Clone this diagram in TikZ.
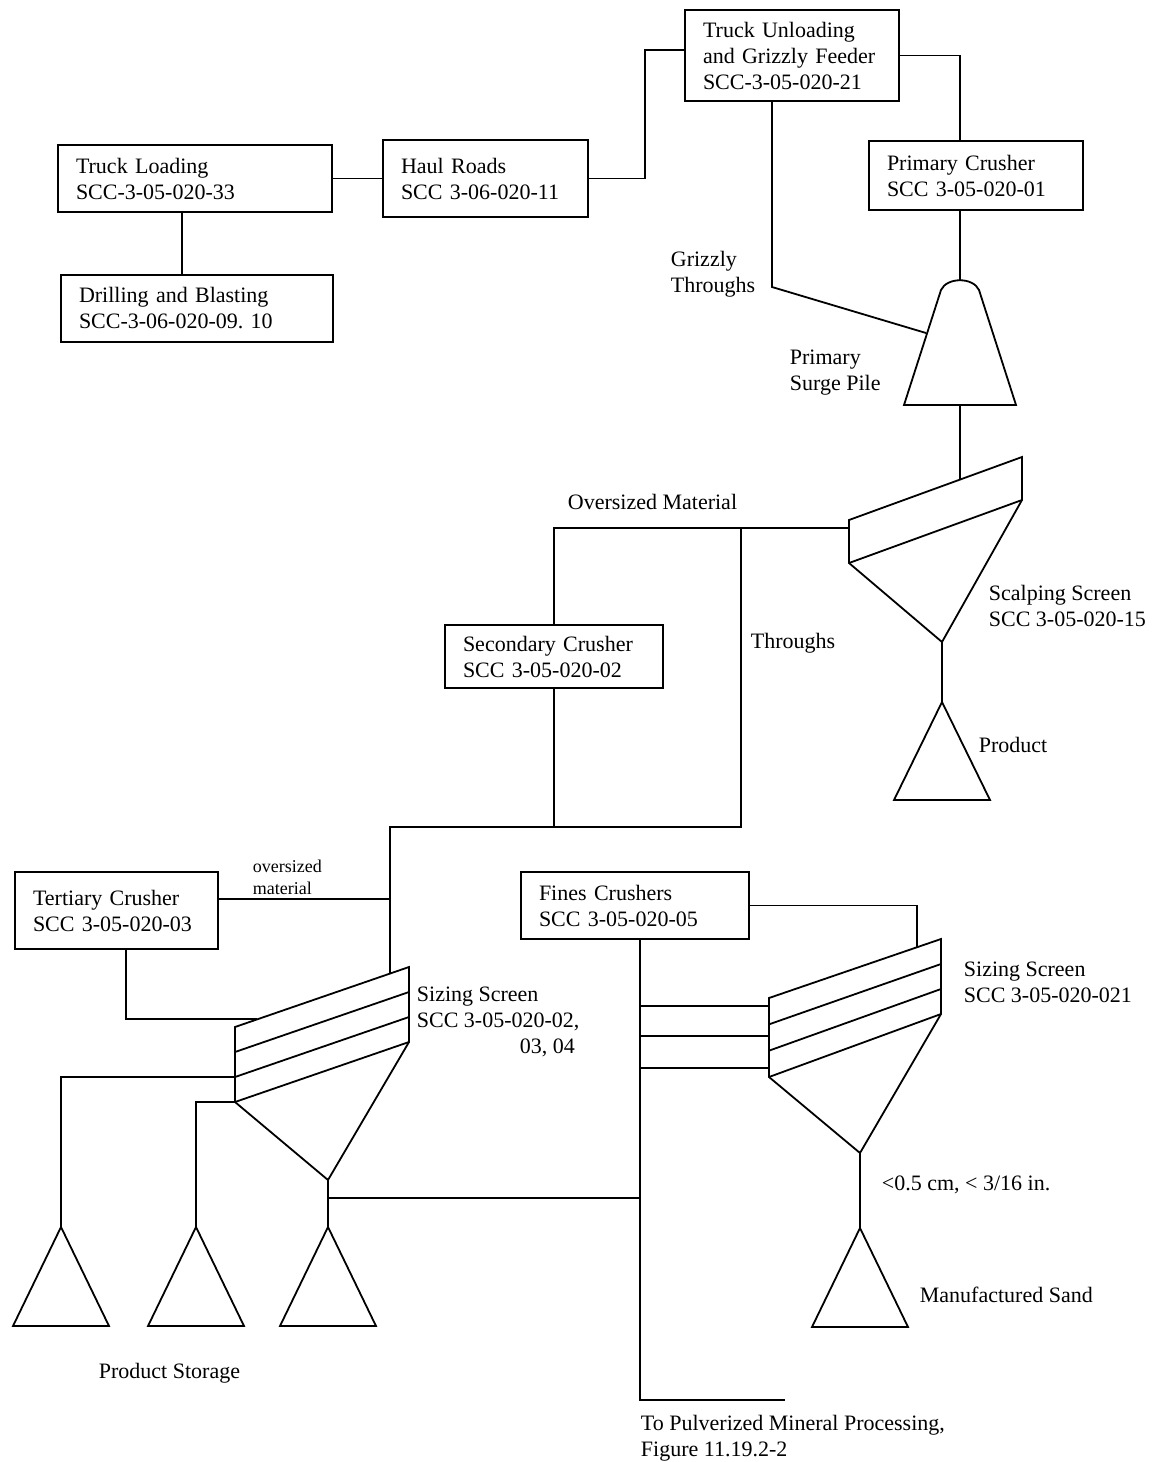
\documentclass[tikz,border=0pt]{standalone}
\usepackage{fontspec}
\setmainfont{Liberation Serif}
\usepackage{tikz}
\usetikzlibrary{calc}
\tikzset{
  unit/.style={draw, align=left, inner xsep=9pt, inner ysep=0pt},
  lbl/.style={anchor=west, align=left, inner sep=0pt}
}
\frenchspacing

\begin{document}
\begin{tikzpicture}[x=0.5pt, y=-0.5pt, line width=0.9pt]

  \fontsize{11}{13}\selectfont

  \useasboundingbox (0,0) rectangle (1153,1462);

  % process units
  \node[unit, text width=119pt, minimum height=33.5pt] (truckload) at (195,178.5) {Truck Loading\\SCC-3-05-020-33};
  \node[unit, text width=118pt, minimum height=33.5pt] (drill) at (197,308.5) {Drilling and Blasting\\SCC-3-06-020-09. 10};
  \node[unit, text width=84.5pt, minimum height=38.5pt] (haul) at (485.5,178.5) {Haul Roads\\SCC 3-06-020-11};
  \node[unit, text width=89pt, minimum height=45.5pt] (unload) at (792,55.5) {Truck Unloading\\and Grizzly Feeder\\SCC-3-05-020-21};
  \node[unit, text width=89pt, minimum height=34.5pt] (primary) at (976,175.5) {Primary Crusher\\SCC 3-05-020-01};
  \node[unit, text width=91pt, minimum height=31.5pt] (second) at (554,656.5) {Secondary Crusher\\SCC 3-05-020-02};
  \node[unit, text width=83.5pt, minimum height=38.5pt] (tertiary) at (116.5,910.5) {Tertiary Crusher\\SCC 3-05-020-03};
  \node[unit, text width=96pt, minimum height=33.5pt] (fines) at (635,905.5) {Fines Crushers\\SCC 3-05-020-05};

  % points on piles and screens
  \coordinate (surge) at (960,280);
  \coordinate (surgebot) at (960,405);
  \coordinate (sc1) at (849,520);
  \coordinate (sc2) at (1022,457);
  \coordinate (sc3) at (1022,500);
  \coordinate (sc4) at (849,563);
  \coordinate (scap) at (942,642);
  \coordinate (scin) at (960,480);
  \coordinate (prodtop) at (942,702);
  \coordinate (tj) at (741,528);
  \coordinate (ls1) at (235,1027);
  \coordinate (ls2) at (409,967);
  \coordinate (ls3) at (409,1042);
  \coordinate (ls4) at (235,1102);
  \coordinate (lsap) at (328,1180);
  \coordinate (lsin) at (390,974);
  \coordinate (rs1) at (769,998);
  \coordinate (rs2) at (941,939);
  \coordinate (rs3) at (941,1014);
  \coordinate (rs4) at (769,1077);
  \coordinate (rsap) at (860,1153);

  % top: quarry to primary crusher
  \draw (truckload.east) -- (haul.west);
  \draw ([xshift=-6.5pt]truckload.south) -- ([xshift=-6.5pt]truckload.south |- drill.north);
  \draw (haul.east) -- ++(56,0) |- ([yshift=2.75pt]unload.west);
  \draw (unload.east) -| (primary.north -| surge);
  \draw (primary.south -| surge) -- (surge);
  \draw (unload.south -| 772,0) -- (772,287) -- (926,333);

  % primary surge pile
  \draw (904,405) -- (941,290) .. controls (947,277) and (973,277) .. (979,290) -- (1016,405) -- cycle;
  \draw (surgebot) -- (scin);

  % scalping screen
  \draw (sc1) -- (sc2) -- (sc3) -- (scap) -- (sc4) -- cycle;
  \draw (sc4) -- (sc3);
  \draw (scap) -- (prodtop);
  \draw (prodtop) -- ++(48,98) -- ++(-96,0) -- cycle;

  % oversize and throughs
  \draw ([yshift=-4pt]sc1) -| (second.north);
  \draw (tj) -- (741,827) -| (lsin);
  \draw (second.south) -- (second.south |- 0,827);

  % tertiary crusher loop
  \draw (tertiary.east |- 0,899) -- (390,899);
  \draw (tertiary.south -| 126,0) |- (257,1019);

  % sizing screen (left)
  \draw (ls1) -- (ls2) -- (ls3) -- (lsap) -- (ls4) -- cycle;
  \foreach \d in {1,2,3}
    \draw ($(ls1)!\d/3!(ls4)$) -- ($(ls2)!\d/3!(ls3)$);
  \draw ($(ls1)!2/3!(ls4)$) -| (61,1227);
  \draw (ls4) -| (196,1227);
  \draw (lsap) -- (328,1227);
  \draw (328,1198) -- (640,1198);

  % sizing screen (right)
  \draw (rs1) -- (rs2) -- (rs3) -- (rsap) -- (rs4) -- cycle;
  \foreach \d in {1,2,3}
    \draw ($(rs1)!\d/3!(rs4)$) -- ($(rs2)!\d/3!(rs3)$);
  \draw (fines.east) -| (917,947);
  \draw (fines.south -| 640,0) -- (640,1400) -- (785,1400);
  \foreach \yy in {1006,1036,1068}
    \draw (640,\yy) -- (rs1 |- 0,\yy);
  \draw (rsap) -- (860,1228);

  % storage piles
  \foreach \px/\py in {61/1227,196/1227,328/1227,860/1228}
    \draw (\px,\py) -- ++(48,99) -- ++(-96,0) -- cycle;

  % labels
  \node[lbl] (grizzly) at (670,274) {Grizzly\\Throughs};
  \node[lbl] (surgelbl) at (789,373) {Primary\\Surge Pile};
  \node[lbl] (overlbl) at (567,502) {Oversized Material};
  \node[lbl] (thrulbl) at (750,643) {Throughs};
  \node[lbl] (scalplbl) at (988,606) {Scalping Screen\\SCC 3-05-020-15};
  \node[lbl] (prodlbl) at (978,745) {Product};
  \node[lbl, font=\fontsize{9}{11}\selectfont] (oslbl) at (252,877) {oversized\\material};
  \node[lbl] (sizelbl) at (416,1022) {Sizing Screen\\SCC 3-05-020-02,\\\hspace*{51.5pt}03, 04};
  \node[lbl] (sizelblb) at (963,982) {Sizing Screen\\SCC 3-05-020-021};
  \node[lbl] (finelbl) at (881,1185) {<0.5 cm, < 3/16 in.};
  \node[lbl] (sandlbl) at (919,1295) {Manufactured Sand};
  \node[lbl] (storelbl) at (98,1373) {Product Storage};
  \node[lbl] (pulvlbl) at (640,1438) {To Pulverized Mineral Processing,\\Figure 11.19.2-2};

\end{tikzpicture}
\end{document}
